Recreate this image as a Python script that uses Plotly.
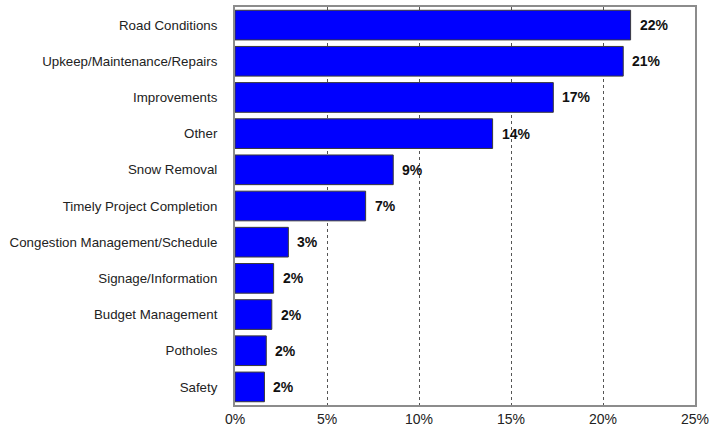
import plotly.graph_objects as go

# Share of responses by topic (percent)
categories = [
    "Road Conditions",
    "Upkeep/Maintenance/Repairs",
    "Improvements",
    "Other",
    "Snow Removal",
    "Timely Project Completion",
    "Congestion Management/Schedule",
    "Signage/Information",
    "Budget Management",
    "Potholes",
    "Safety",
]
values = [21.5, 21.1, 17.3, 14.0, 8.6, 7.1, 2.9, 2.1, 2.0, 1.7, 1.6]
x_ticks = [0, 5, 10, 15, 20, 25]
x_tick_labels = ["0%", "5%", "10%", "15%", "20%", "25%"]

labels = ["%.0f%%" % v for v in values]

fig = go.Figure(
    go.Bar(
        x=values,
        y=categories,
        orientation="h",
        marker=dict(color="#0000FF", line=dict(color="#3a3a3a", width=1)),
        width=0.82,
        hoverinfo="x+y",
    )
)

# value labels just past the end of each bar
for cat, v, lab in zip(categories, values, labels):
    fig.add_annotation(
        x=v,
        y=cat,
        text=lab,
        showarrow=False,
        xanchor="left",
        xshift=7,
        font=dict(family="Liberation Sans, Arial", size=14, color="#111111", weight="bold"),
    )

fig.update_layout(
    width=714,
    height=433,
    margin=dict(l=235, r=15, t=5, b=28),
    paper_bgcolor="white",
    plot_bgcolor="white",
    showlegend=False,
    font=dict(family="Liberation Sans, Arial", color="#222222"),
)

fig.update_xaxes(
    range=[0, 25],
    tickvals=x_ticks,
    ticktext=x_tick_labels,
    tickfont=dict(size=14, color="#222222"),
    showgrid=True,
    gridcolor="#555555",
    griddash="dot",
    gridwidth=1,
    zeroline=False,
    showline=True,
    linecolor="#8c8c8c",
    linewidth=2,
    mirror=True,
    ticks="",
)

fig.update_yaxes(
    autorange="reversed",
    tickfont=dict(size=13.3, color="#222222"),
    showgrid=False,
    zeroline=False,
    showline=True,
    linecolor="#8c8c8c",
    linewidth=2,
    mirror=True,
    ticks="",
    ticklabelstandoff=13,
)

fig.write_html("out.html")
